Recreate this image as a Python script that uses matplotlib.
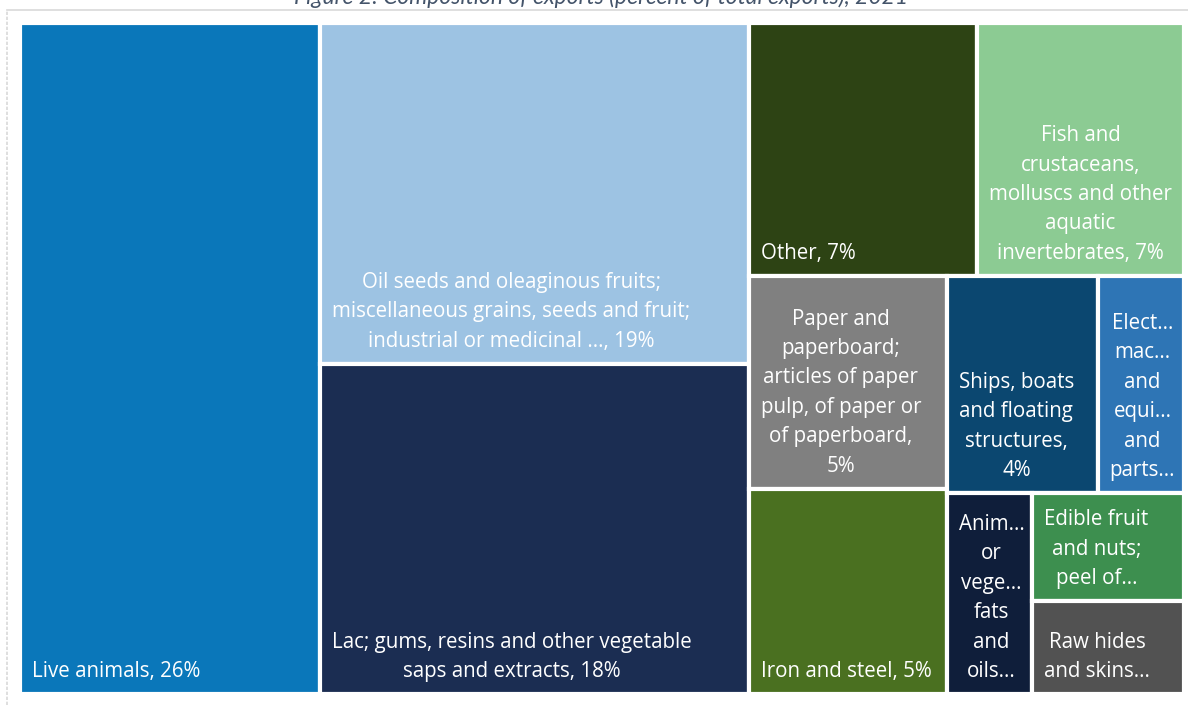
import matplotlib
matplotlib.use("Agg")
import matplotlib.pyplot as plt
from matplotlib.patches import Rectangle
import matplotlib.lines as mlines

# ---- data: share of total exports (%), 2021 ----
categories = [
    "Live animals",
    "Oil seeds and oleaginous fruits; miscellaneous grains, seeds and fruit; industrial or medicinal plants",
    "Lac; gums, resins and other vegetable saps and extracts",
    "Other",
    "Fish and crustaceans, molluscs and other aquatic invertebrates",
    "Paper and paperboard; articles of paper pulp, of paper or of paperboard",
    "Iron and steel",
    "Ships, boats and floating structures",
    "Electrical machinery and equipment and parts thereof",
    "Animal or vegetable fats and oils",
    "Edible fruit and nuts; peel of citrus fruit or melons",
    "Raw hides and skins (other than furskins) and leather",
]
shares = [25.8, 18.7, 18.1, 7.4, 6.7, 5.4, 5.2, 4.2, 2.4, 2.2, 2.1, 1.8]

# wrapped tile labels as shown in each tile; {pct} is filled from the share
tile_labels = [
    "Live animals, {pct}",
    "Oil seeds and oleaginous fruits;\nmiscellaneous grains, seeds and fruit;\nindustrial or medicinal ..., {pct}",
    "Lac; gums, resins and other vegetable\nsaps and extracts, {pct}",
    "Other, {pct}",
    "Fish and\ncrustaceans,\nmolluscs and other\naquatic\ninvertebrates, {pct}",
    "Paper and\npaperboard;\narticles of paper\npulp, of paper or\nof paperboard,\n{pct}",
    "Iron and steel, {pct}",
    "Ships, boats\nand floating\nstructures,\n{pct}",
    "Elect...\nmac...\nand\nequi...\nand\nparts...",
    "Anim...\nor\nvege...\nfats\nand\noils...",
    "Edible fruit\nand nuts;\npeel of...",
    "Raw hides\nand skins...",
]

colors = ["#0A77BA", "#9DC3E3", "#1B2D52", "#2D4314", "#8CCB93", "#808080",
          "#4A7020", "#0B4770", "#2E75B5", "#0F1E3A", "#3D8F4F", "#525252"]

title = "Figure 2: Composition of exports (percent of total exports), 2021"

# number of consecutive tiles packed into each strip of the treemap
strip_sizes = [1, 2, 2, 2, 2, 1, 1, 1]


def layout_strip(sizes, x, y, dx, dy):
    """Lay one strip along the shorter side of the free rectangle."""
    area = sum(sizes)
    rects = []
    if dx >= dy:  # vertical strip at the left
        w = area / dy
        for s in sizes:
            h = s / w
            rects.append((x, y, w, h))
            y += h
        return rects, (x + w, rects[0][1], dx - w, dy)
    else:  # horizontal strip at the top
        h = area / dx
        for s in sizes:
            w = s / h
            rects.append((x, y, w, h))
            x += w
        return rects, (rects[0][0], y + h, dx, dy - h)


def treemap(values, strips, W, H):
    total = sum(values)
    areas = [v * W * H / total for v in values]
    free = (0.0, 0.0, W, H)
    out, i = [], 0
    for n in strips:
        rects, free = layout_strip(areas[i:i + n], *free)
        out.extend(rects)
        i += n
    return out


FIG_W, FIG_H, DPI = 11.88, 7.05, 100
fig = plt.figure(figsize=(FIG_W, FIG_H), dpi=DPI)
fig.patch.set_facecolor("white")

# light frame around the visual
fig.add_artist(mlines.Line2D([7 / 1188, 7 / 1188], [0, 1 - 9.5 / 705],
                             color="#D9D9D9", lw=1.2, ls=(0, (2, 1))))
fig.add_artist(mlines.Line2D([7 / 1188, 1], [1 - 9.5 / 705, 1 - 9.5 / 705],
                             color="#D9D9D9", lw=1.2))

left, top, right, bottom = 20, 23, 1184, 694
ax = fig.add_axes([left / 1188, 1 - bottom / 705,
                   (right - left) / 1188, (bottom - top) / 705])
W, H = right - left, bottom - top
ax.set_xlim(0, W)
ax.set_ylim(H, 0)
ax.axis("off")

rects = treemap(shares, strip_sizes, W, H)
label_font = ["Open Sans", "DejaVu Sans"]
for (x, y, w, h), c, lab, v in zip(rects, colors, tile_labels, shares):
    ax.add_patch(Rectangle((x, y), w, h, facecolor=c, edgecolor="white",
                           linewidth=3.0))
    txt = lab.format(pct=f"{v:.0f}%")
    ax.annotate(txt, xy=(x, y + h), xytext=(12, 12), textcoords="offset pixels",
                ha="left", va="bottom", multialignment="center",
                color="white", fontsize=14.8, family=label_font,
                linespacing=1.53, annotation_clip=False)

fig.text(601 / 1188, 1 - 4 / 705, title, ha="center", va="baseline",
         fontsize=16.5, style="italic", color="#44546A",
         family=["Lato", "DejaVu Sans"])

fig.savefig("out.png", dpi=DPI, facecolor="white")
